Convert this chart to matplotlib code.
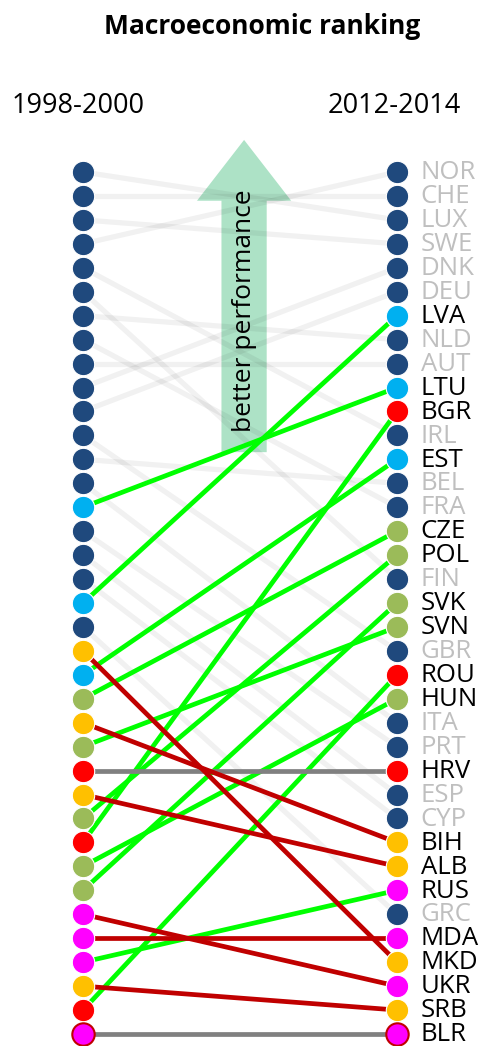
import matplotlib
matplotlib.use("Agg")
import matplotlib.pyplot as plt
from matplotlib.patches import Polygon

plt.rcParams['font.family'] = ['Open Sans', 'DejaVu Sans']

# ---------------- data ----------------
countries = ["NOR", "CHE", "LUX", "SWE", "DNK", "DEU", "LVA", "NLD", "AUT", "LTU",
             "BGR", "IRL", "EST", "BEL", "FRA", "CZE", "POL", "FIN", "SVK", "SVN",
             "GBR", "ROU", "HUN", "ITA", "PRT", "HRV", "ESP", "CYP", "BIH", "ALB",
             "RUS", "GRC", "MDA", "MKD", "UKR", "SRB", "BLR"]
rank_2014 = list(range(1, 38))
rank_2000 = [4, 2, 1, 3, 10, 11, 19, 7, 9, 15,
             29, 5, 22, 13, 8, 23, 28, 6, 31, 25,
             12, 36, 30, 14, 16, 26, 17, 18, 24, 27,
             34, 20, 33, 21, 32, 35, 37]
# country groups
group = ["W", "W", "W", "W", "W", "W", "BAL", "W", "W", "BAL",
         "SEE", "W", "BAL", "W", "W", "CE", "CE", "W", "CE", "CE",
         "W", "SEE", "CE", "W", "W", "SEE", "W", "W", "WB", "WB",
         "EAST", "W", "EAST", "WB", "EAST", "WB", "EAST"]
# trend of highlighted countries: up / down / same
trend = ["-", "-", "-", "-", "-", "-", "up", "-", "-", "up",
         "up", "-", "up", "-", "-", "up", "up", "-", "up", "up",
         "-", "up", "up", "-", "-", "same", "-", "-", "down", "down",
         "up", "-", "down", "down", "down", "down", "same"]
period_labels = ["1998-2000", "2012-2014"]
title = "Macroeconomic ranking"
arrow_text = "better performance"

# ---------------- styles ----------------
group_color = {"W": "#1F497D", "BAL": "#00B0F0", "SEE": "#FF0000",
               "CE": "#9BBB59", "WB": "#FFC000", "EAST": "#FF00FF"}
trend_color = {"up": "#00FF00", "down": "#C00000", "same": "#808080"}

fig = plt.figure(figsize=(4.93, 10.46), dpi=100)
ax = fig.add_axes([0, 0, 1, 1])
ax.set_xlim(-83 / 314, (493 - 83) / 314)
step = (1034 - 172) / 36
ax.set_ylim(1 + (1046 - 172) / step, 1 - 172 / step)
ax.axis("off")

# arrow (decoration)
xc = 0.513
hw, sw = 0.15, 0.072
tip, base_head, bottom = -0.34, 2.2, 12.7
arrow = Polygon([[xc, tip], [xc + hw, base_head], [xc + sw, base_head],
                 [xc + sw, bottom], [xc - sw, bottom], [xc - sw, base_head],
                 [xc - hw, base_head]], closed=True, facecolor="#ADE2C6",
                edgecolor="none", zorder=1)
ax.add_patch(arrow)
ax.text(xc, 6.8, arrow_text, rotation=90, ha="center", va="center",
        fontsize=19, color="black", zorder=5)

# lines
for c, r0, r1, g, t in zip(countries, rank_2000, rank_2014, group, trend):
    if g == "W":
        ax.plot([0, 1], [r0, r1], color="black", alpha=0.055, lw=3.8,
                solid_capstyle="butt", zorder=2)
    else:
        ax.plot([0, 1], [r0, r1], color=trend_color[t], lw=3.4,
                solid_capstyle="butt", zorder=3)

# dots
for c, r0, r1, g in zip(countries, rank_2000, rank_2014, group):
    ec = "#C00000" if c == "BLR" else "white"
    lw = 1.5 if c == "BLR" else 0.8
    ax.scatter([0, 1], [r0, r1], s=260, color=group_color[g], edgecolor=ec,
               linewidth=lw, zorder=4)
    ax.text(1.075, r1 + 0.03, c, ha="left", va="center", fontsize=18.5,
            color="#BFBFBF" if g == "W" else "black", zorder=5)

# headers
ax.text(-0.016, -1.75, period_labels[0], ha="center", va="center", fontsize=19.5)
ax.text(0.99, -1.75, period_labels[1], ha="center", va="center", fontsize=19.5)
fig.text(262 / 493, 1 - 27 / 1046, title, ha="center", va="center",
         fontsize=19, fontweight="bold")

fig.savefig("out.png", dpi=100)
